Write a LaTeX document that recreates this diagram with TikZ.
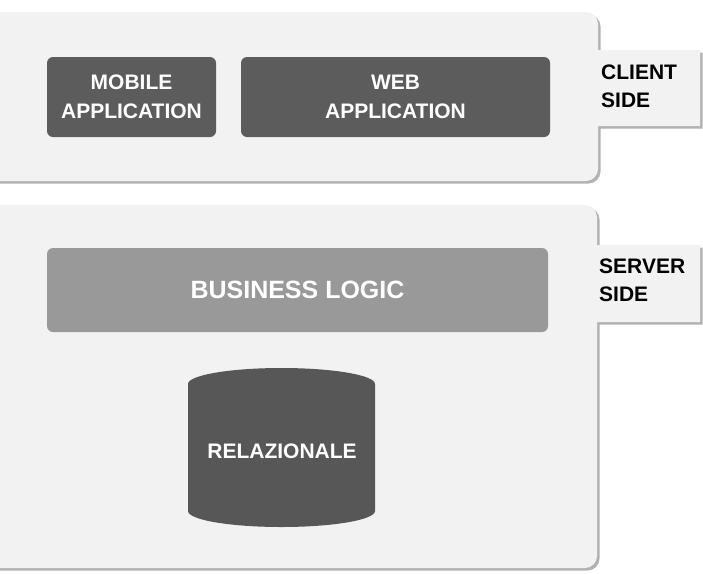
\documentclass[tikz,border=0pt]{standalone}
\usepackage{fontspec}
\setmainfont{Liberation Sans}
\definecolor{panelbg}{gray}{0.95}
\definecolor{panelshadow}{gray}{0.70}
\definecolor{appgray}{gray}{0.36}
\definecolor{logicgray}{gray}{0.60}
\definecolor{dbgray}{gray}{0.34}
\tikzset{
  appbox/.style={fill=appgray, rounded corners=6pt, text=white, inner sep=0pt,
    align=center, font=\fontsize{21}{29}\selectfont\bfseries},
  logicbar/.style={fill=logicgray, rounded corners=6pt, text=white, inner sep=0pt,
    font=\fontsize{25}{30}\selectfont\bfseries},
  dblabel/.style={text=white, inner sep=0pt, font=\fontsize{21}{29}\selectfont\bfseries},
  sidelabel/.style={anchor=west, align=left, inner sep=0pt,
    font=\fontsize{21}{28}\selectfont\bfseries},
}
\begin{document}
\begin{tikzpicture}[x=1pt,y=-1pt]
  \useasboundingbox (0,0) rectangle (703,573);

  % client-side panel with its tab, shadow first
  \foreach \d/\c in {2.5/panelshadow, 0/panelbg} {
    \fill[\c, shift={(\d,\d)}]
      (-10,12) -- (586,12) .. controls (592.6,12) and (598,17.4) .. (598,24)
      -- (598,50) -- (700,50) -- (700,126) -- (598,126)
      -- (598,169) .. controls (598,175.6) and (592.6,181) .. (586,181)
      -- (-10,181) -- cycle;
  }

  % server-side panel with its tab
  \foreach \d/\c in {2.5/panelshadow, 0/panelbg} {
    \fill[\c, shift={(\d,\d)}]
      (-10,205) -- (585,205) .. controls (591.6,205) and (597,210.4) .. (597,217)
      -- (597,245) -- (700,245) -- (700,322) -- (597,322)
      -- (597,556) .. controls (597,562.6) and (591.6,568) .. (585,568)
      -- (-10,568) -- cycle;
  }

  % client applications
  \node[appbox, minimum width=169pt, minimum height=80pt] (mobile) at (131.5,97)
    {MOBILE\\APPLICATION};
  \node[appbox, minimum width=309pt, minimum height=80pt] (web) at (395.5,97)
    {WEB\\APPLICATION};
  \node[sidelabel] (client) at (601,86) {CLIENT\\SIDE};

  % server components
  \node[logicbar, minimum width=501pt, minimum height=84pt] (logic) at (297.5,290)
    {BUSINESS LOGIC};
  \node[sidelabel] (server) at (599,280) {SERVER\\SIDE};

  % relational database drum
  \fill[dbgray] (188,384) arc[start angle=180, end angle=360, x radius=93.5, y radius=16]
    -- (375,511) arc[start angle=0, end angle=180, x radius=93.5, y radius=16] -- cycle;
  \node[dblabel] (db) at (282,451) {RELAZIONALE};
\end{tikzpicture}
\end{document}
